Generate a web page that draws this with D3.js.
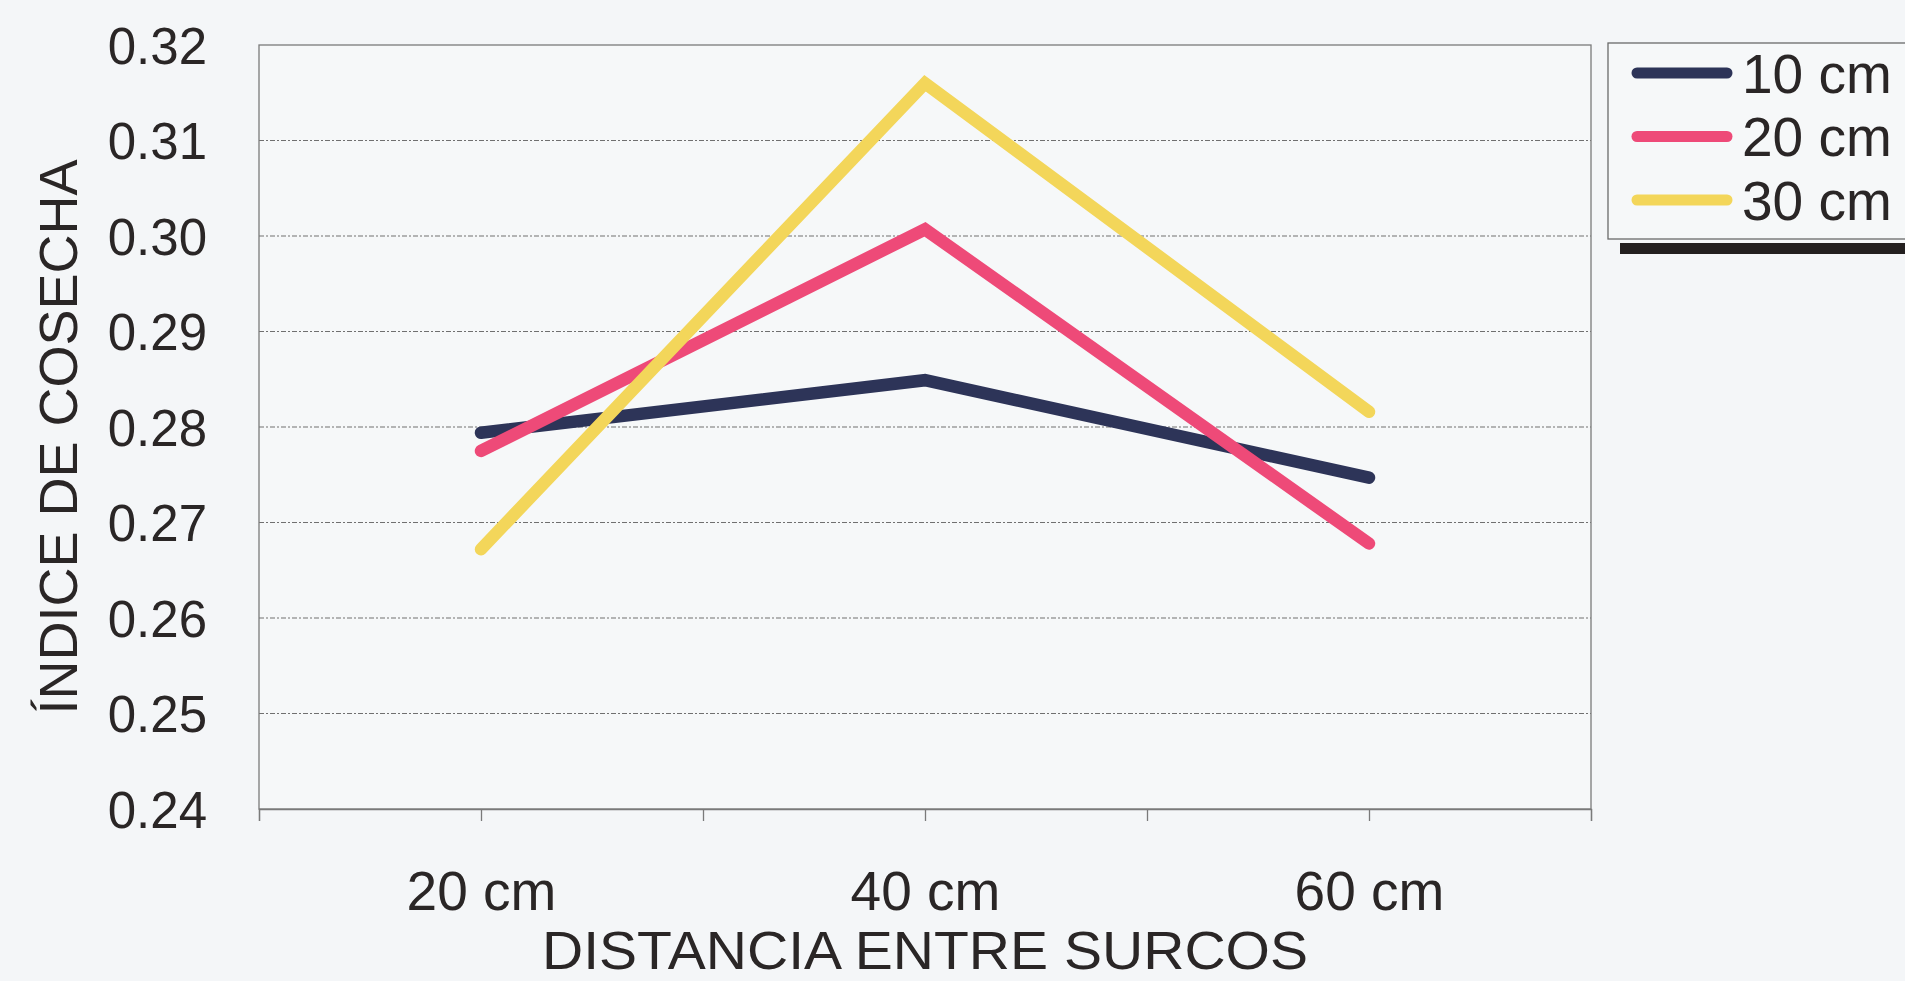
<!DOCTYPE html>
<html lang="es">
<head>
<meta charset="utf-8">
<title>Índice de cosecha</title>
<script src="https://cdn.jsdelivr.net/npm/d3@7/dist/d3.min.js"></script>
<style>
  html, body { margin: 0; padding: 0; background: #f4f6f8; }
  svg { display: block; }
  text { font-family: "Liberation Sans", Arial, sans-serif; fill: #2a2626; }
</style>
</head>
<body>
<svg id="chart" width="1905" height="981"></svg>
<script>
// Distancia entre surcos (eje X)
const categories = ["20 cm", "40 cm", "60 cm"];
// Distancia entre plantas (series)
const seriesNames = ["10 cm", "20 cm", "30 cm"];
const seriesColors = ["#2d3458", "#ee4a78", "#f3d65a"];
// Índice de cosecha por serie
const values10 = [0.2794, 0.2849, 0.2747];
const values20 = [0.2775, 0.3007, 0.2678];
const values30 = [0.2672, 0.3160, 0.2816];
const yTicks = [0.24, 0.25, 0.26, 0.27, 0.28, 0.29, 0.30, 0.31, 0.32];

const series = [values10, values20, values30].map((v, i) => ({
  name: seriesNames[i], color: seriesColors[i], values: v
}));

const svg = d3.select("#chart");
const plot = { left: 259, right: 1591, top: 45, bottom: 809 };

const x = d3.scalePoint().domain(categories).range([plot.left, plot.right]).padding(0.5);
const y = d3.scaleLinear().domain([0.24, 0.32]).range([plot.bottom, plot.top]);

// Plot area background and dashed gridlines
svg.append("rect")
  .attr("x", plot.left).attr("y", plot.top)
  .attr("width", plot.right - plot.left).attr("height", plot.bottom - plot.top)
  .attr("fill", "#f6f8f9");

svg.append("g")
  .selectAll("line")
  .data(yTicks.slice(1, -1))
  .join("line")
  .attr("x1", plot.left).attr("x2", plot.right)
  .attr("y1", d => y(d)).attr("y2", d => y(d))
  .attr("stroke", "#707070").attr("stroke-width", 1.2)
  .attr("stroke-dasharray", "5,2,2,2");

// Plot border
svg.append("rect")
  .attr("x", plot.left).attr("y", plot.top)
  .attr("width", plot.right - plot.left).attr("height", plot.bottom - plot.top)
  .attr("fill", "none").attr("stroke", "#7a7a7a").attr("stroke-width", 1.3);

// X axis tick marks at category centres and boundaries
const xTickScale = d3.scaleLinear().domain([0, categories.length]).range([plot.left, plot.right]);
svg.append("g")
  .attr("transform", `translate(0,${plot.bottom})`)
  .call(d3.axisBottom(xTickScale)
    .tickValues(d3.range(0, categories.length + 0.01, 0.5))
    .tickSize(12).tickFormat(""))
  .call(g => g.select(".domain").attr("stroke", "#7a7a7a").attr("stroke-width", 1.3))
  .call(g => g.selectAll(".tick line").attr("stroke", "#7a7a7a").attr("stroke-width", 1.3));

// X category labels
svg.append("g")
  .attr("transform", `translate(0,${plot.bottom})`)
  .call(d3.axisBottom(x).tickSize(0).tickPadding(101))
  .call(g => g.select(".domain").remove())
  .call(g => g.selectAll(".tick text")
    .attr("font-size", 55).attr("dy", 0)
    .style("font-family", '"Liberation Sans", Arial, sans-serif').attr("fill", "#2a2626"));

// Y tick labels
svg.append("g")
  .attr("transform", `translate(${plot.left},0)`)
  .call(d3.axisLeft(y).tickValues(yTicks).tickFormat(d3.format(".2f")).tickSize(0).tickPadding(52))
  .call(g => g.select(".domain").remove())
  .call(g => g.selectAll(".tick text")
    .attr("font-size", 51).attr("dy", "0.36em")
    .style("font-family", '"Liberation Sans", Arial, sans-serif').attr("fill", "#2a2626"));

// Axis titles
svg.append("text")
  .attr("x", (plot.left + plot.right) / 2).attr("y", 969)
  .attr("text-anchor", "middle").attr("font-size", 53)
  .attr("textLength", 766).attr("lengthAdjust", "spacingAndGlyphs")
  .text("DISTANCIA ENTRE SURCOS");

svg.append("text")
  .attr("transform", `translate(77,437) rotate(-90)`)
  .attr("text-anchor", "middle").attr("font-size", 54)
  .text("ÍNDICE DE COSECHA");

// Series lines
const line = d3.line()
  .x((d, i) => x(categories[i]))
  .y(d => y(d));

svg.append("g")
  .selectAll("path")
  .data(series)
  .join("path")
  .attr("d", d => line(d.values))
  .attr("fill", "none")
  .attr("stroke", d => d.color)
  .attr("stroke-width", 12.5)
  .attr("stroke-linecap", "round")
  .attr("stroke-linejoin", "miter");

// Legend with drop shadow bar
const legend = svg.append("g");
legend.append("rect")
  .attr("x", 1620).attr("y", 243).attr("width", 300).attr("height", 11)
  .attr("fill", "#231f1f");
legend.append("rect")
  .attr("x", 1608).attr("y", 43).attr("width", 320).attr("height", 196)
  .attr("fill", "#f6f8f9").attr("stroke", "#6a6a6a").attr("stroke-width", 1.3);

const rowY = d3.scalePoint().domain(seriesNames).range([73, 200]);
const rows = legend.selectAll("g.row")
  .data(series)
  .join("g")
  .attr("class", "row")
  .attr("transform", d => `translate(0,${rowY(d.name)})`);
rows.append("line")
  .attr("x1", 1637).attr("x2", 1727)
  .attr("stroke", d => d.color).attr("stroke-width", 11)
  .attr("stroke-linecap", "round");
rows.append("text")
  .attr("x", 1742).attr("dy", "0.36em")
  .attr("font-size", 55)
  .text(d => d.name);
</script>
</body>
</html>
